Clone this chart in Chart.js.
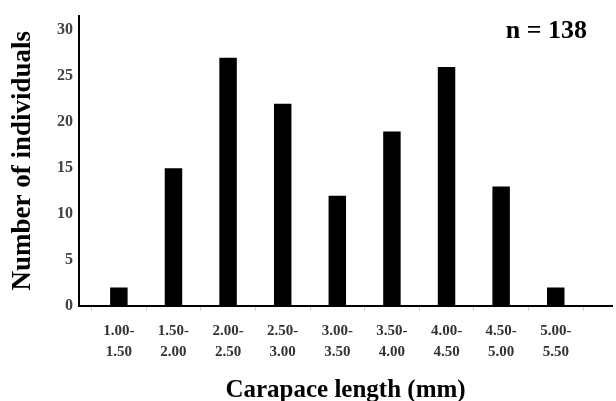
<!DOCTYPE html>
<html>
<head>
<meta charset="utf-8">
<script src="https://cdn.jsdelivr.net/npm/chart.js@4"></script>
<style>
  html, body { margin: 0; padding: 0; background: #fff; }
  #wrap { width: 616px; height: 401px; }
</style>
</head>
<body>
<div id="wrap"><canvas id="myChart" width="616" height="401"></canvas></div>
<script>
const sizeClasses = ["1.00-1.50", "1.50-2.00", "2.00-2.50", "2.50-3.00", "3.00-3.50",
  "3.50-4.00", "4.00-4.50", "4.50-5.00", "5.00-5.50"];
const counts = [2, 15, 27, 22, 12, 19, 26, 13, 2];
const yTicks = [0, 5, 10, 15, 20, 25, 30];
const sampleNote = "n = 138";

const serif = "'Liberation Serif', 'Times New Roman', serif";

// bin centres sit on whole numbers, bin edges on halves
const edgeTicks = [];
for (let i = 0; i <= sizeClasses.length; i++) {
  edgeTicks.push(i - 0.5);
  if (i < sizeClasses.length) edgeTicks.push(i);
}

const noteLabel = {
  id: "noteLabel",
  afterDraw(chart) {
    const c = chart.ctx;
    c.save();
    c.font = "bold 26px " + serif;
    c.fillStyle = "#000";
    c.textAlign = "right";
    c.textBaseline = "middle";
    c.fillText(sampleNote, chart.chartArea.right - 25, 31);
    c.restore();
  },
};

const ctx = document.getElementById("myChart");

const myChart = new Chart(ctx, {
  type: "bar",
  data: {
    datasets: [
      {
        data: counts.map((v, i) => ({ x: i, y: v })),
        backgroundColor: "#000",
        borderWidth: 0,
        categoryPercentage: 1,
        barPercentage: 0.64,
      },
    ],
  },
  plugins: [noteLabel],
  options: {
    responsive: false,
    animation: false,
    layout: { padding: { top: 12, right: 4, left: 0, bottom: 0 } },
    plugins: {
      legend: { display: false },
      tooltip: { enabled: false },
    },
    scales: {
      x: {
        type: "linear",
        offset: false,
        min: -0.73,
        max: 9.03,
        afterBuildTicks: (scale) => {
          scale.ticks = edgeTicks.map((v) => ({ value: v }));
        },
        afterFit: (scale) => {
          scale.height = 95;
        },
        border: { display: true, color: "#000", width: 2 },
        grid: {
          display: true,
          offset: false,
          drawOnChartArea: false,
          drawTicks: true,
          tickLength: 5,
          tickWidth: 1,
          tickColor: (c) => (c.tick && !Number.isInteger(c.tick.value) ? "#d0d0d0" : "rgba(0,0,0,0)"),
          color: "rgba(0,0,0,0)",
        },
        ticks: {
          autoSkip: false,
          maxRotation: 0,
          padding: 10,
          color: "#333",
          font: { family: serif, size: 15, weight: "bold", lineHeight: 1.4 },
          callback: (v) => {
            if (!Number.isInteger(v)) return "";
            const [a, b] = sizeClasses[v].split("-");
            return [a + "-", b];
          },
        },
        title: {
          display: true,
          text: "Carapace length (mm)",
          color: "#000",
          font: { family: serif, size: 25, weight: "bold", lineHeight: 0.84 },
          padding: { top: 0, bottom: 0 },
        },
      },
      y: {
        min: 0,
        max: 31.6,
        afterBuildTicks: (scale) => {
          scale.ticks = yTicks.map((v) => ({ value: v }));
        },
        afterFit: (scale) => {
          scale.width = 79;
        },
        border: { display: true, color: "#000", width: 2 },
        grid: { display: false, drawTicks: false },
        ticks: {
          padding: 6,
          color: "#404040",
          font: { family: serif, size: 16, weight: "bold" },
        },
        title: {
          display: true,
          text: "Number of individuals",
          color: "#000",
          font: { family: serif, size: 27, weight: "bold", lineHeight: 1.2 },
          padding: { top: 7, bottom: 0 },
        },
      },
    },
  },
});
</script>
</body>
</html>
